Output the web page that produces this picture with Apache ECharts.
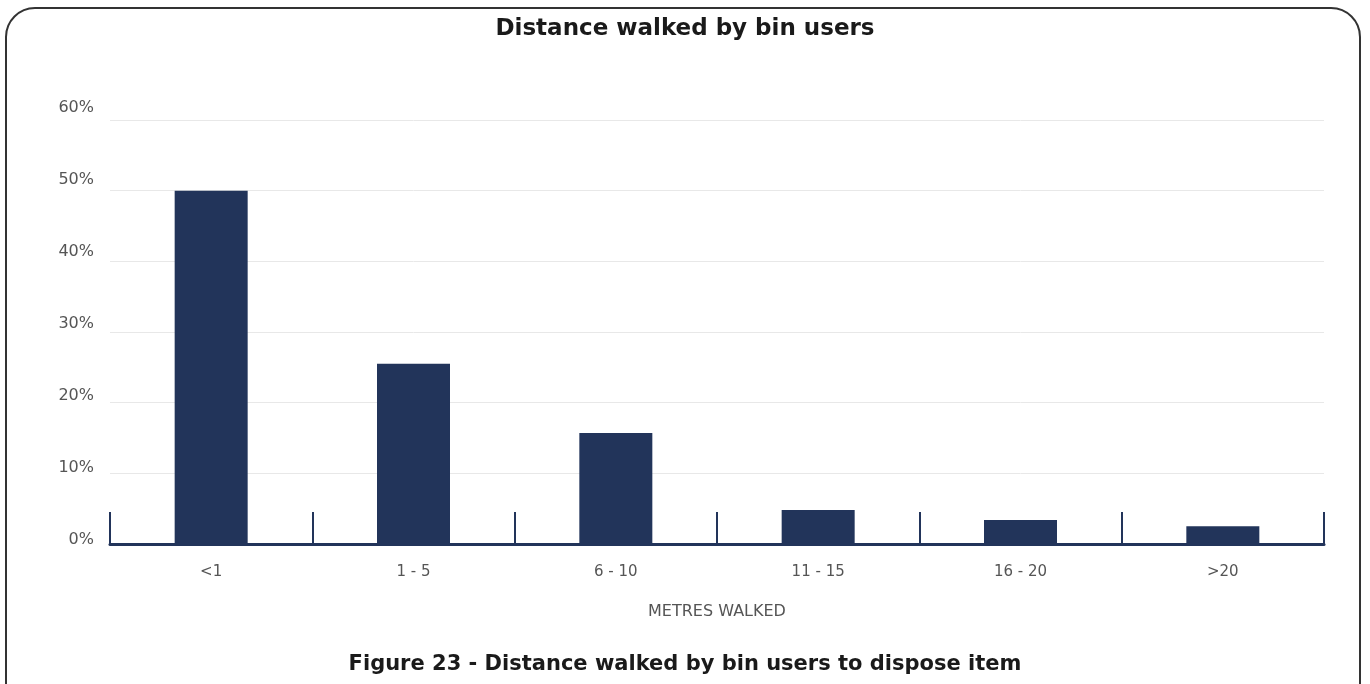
<!DOCTYPE html>
<html>
<head>
<meta charset="utf-8">
<script src="https://cdn.jsdelivr.net/npm/echarts@6/dist/echarts.min.js"></script>
<style>
  html, body { margin: 0; padding: 0; background: #fff; overflow: hidden; }
  #frame {
    position: absolute; left: 5px; top: 7px; width: 1356px; height: 720px;
    border: 2px solid #333; border-radius: 30px; box-sizing: border-box;
  }
  #main-chart { position: absolute; left: 0; top: 0; width: 1370px; height: 684px; }
</style>
</head>
<body>
<div id="frame"></div>
<div id="main-chart"></div>
<script>
// 距离分类
const categories = ['<1', '1 - 5', '6 - 10', '11 - 15', '16 - 20', '>20']
// 百分比
const shareValues = [50, 25.5, 15.7, 4.8, 3.4, 2.5]
const yTicks = [0, 10, 20, 30, 40, 50, 60]

const navy = '#22345a'
const font = 'DejaVu Sans'
const myChart = echarts.init(document.getElementById('main-chart'))

const option = {
  animation: false,
  title: [
    {
      text: 'Distance walked by bin users',
      left: 'center',
      top: 13,
      textStyle: { fontFamily: font, fontSize: 23, fontWeight: 'bold', color: '#1a1a1a' }
    },
    {
      text: 'Figure 23 - Distance walked by bin users to dispose item',
      left: 'center',
      top: 649,
      textStyle: { fontFamily: font, fontSize: 21, fontWeight: 'bold', color: '#1a1a1a' }
    }
  ],
  // 第二个grid只用来放y轴文字（原图文字和网格线不完全对齐）
  grid: [
    { left: 110, right: 46, top: 120, bottom: 140 },
    { left: 110, right: 46, top: 108, bottom: 144 }
  ],
  xAxis: [
    {
      type: 'category',
      data: categories,
      gridIndex: 0,
      name: 'METRES WALKED',
      nameLocation: 'middle',
      nameGap: 60,
      nameTextStyle: { fontFamily: font, fontSize: 16, color: '#555' },
      axisLine: { lineStyle: { color: navy, width: 3 } },
      axisTick: { show: true, inside: true, length: 32, lineStyle: { color: navy, width: 2 } },
      axisLabel: { fontFamily: font, fontSize: 15, color: '#555', margin: 21 }
    },
    { type: 'category', data: categories, gridIndex: 1, show: false }
  ],
  yAxis: [
    {
      type: 'value',
      gridIndex: 0,
      min: 0,
      max: 60,
      interval: 10,
      axisLine: { show: false },
      axisTick: { show: false },
      axisLabel: { show: false },
      splitLine: { lineStyle: { color: '#e8e8e8', width: 1 } }
    },
    {
      type: 'value',
      gridIndex: 1,
      min: 0,
      max: 60,
      interval: 10,
      axisLine: { show: false },
      axisTick: { show: false },
      splitLine: { show: false },
      axisLabel: {
        fontFamily: font, fontSize: 16, color: '#555', margin: 16,
        formatter: v => (yTicks.includes(v) ? v + '%' : '')
      }
    }
  ],
  series: [
    {
      type: 'bar',
      data: shareValues,
      xAxisIndex: 0,
      yAxisIndex: 0,
      barWidth: 73,
      itemStyle: { color: navy }
    }
  ]
}

myChart.setOption(option)
</script>
</body>
</html>
